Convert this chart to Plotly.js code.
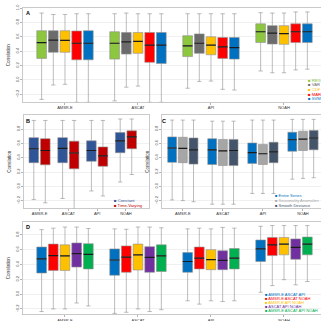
<!DOCTYPE html>
<html><head><meta charset="utf-8">
<script src="https://cdn.plot.ly/plotly-3.0.1.min.js"></script>
<style>html,body{margin:0;padding:0;background:#fff}#chart{width:321px;height:321px}</style>
</head><body><div id="chart"></div>
<script>
const CATS = ['AMSR-E','ASCAT','API','NOAH'];

// Panel A (rows = series, cols = categories)
const A_NAMES = ['REG','VAR','CDF','MAR','SVM'];
const A_COLORS = ['#8DC63F','#6B6B6B','#FFC000','#FF0000','#0070C0'];
const A_LOW = [[-0.27,-0.29,-0.115,0.125],[-0.07,-0.10,-0.02,0.10],[-0.06,-0.085,-0.015,0.10],[-0.31,-0.31,-0.13,0.14],[-0.31,-0.31,-0.14,0.15]];
const A_Q1  = [[0.30,0.29,0.325,0.52],[0.385,0.36,0.37,0.50],[0.385,0.37,0.35,0.495],[0.28,0.245,0.30,0.52],[0.28,0.23,0.29,0.52]];
const A_MED = [[0.52,0.51,0.475,0.67],[0.555,0.53,0.51,0.65],[0.55,0.535,0.485,0.645],[0.51,0.485,0.46,0.67],[0.51,0.485,0.45,0.67]];
const A_Q3  = [[0.685,0.67,0.615,0.78],[0.685,0.66,0.64,0.755],[0.685,0.66,0.60,0.755],[0.68,0.66,0.59,0.78],[0.685,0.66,0.59,0.78]];
const A_HIGH= [[0.93,0.92,0.92,0.935],[0.91,0.93,0.92,0.93],[0.91,0.92,0.92,0.93],[0.92,0.92,0.92,0.945],[0.92,0.92,0.92,0.945]];

// Panel B
const B_NAMES = ['Constant','Time-Varying'];
const B_COLORS = ['#2F5597','#C00000'];
const B_LOW = [[-0.185,-0.17,-0.065,0.06],[-0.23,-0.31,-0.135,0.165]];
const B_Q1  = [[0.33,0.33,0.35,0.47],[0.30,0.245,0.28,0.525]];
const B_MED = [[0.525,0.53,0.50,0.635],[0.50,0.465,0.425,0.69]];
const B_Q3  = [[0.68,0.68,0.635,0.75],[0.665,0.63,0.55,0.775]];
const B_HIGH= [[0.92,0.92,0.92,0.94],[0.92,0.92,0.92,0.94]];

// Panel C
const C_NAMES = ['Entire Series','Seasonality Anomalies','Smooth Deviance'];
const C_COLORS = ['#0070C0','#A6A6A6','#44546A'];
const C_LOW = [[-0.19,-0.25,-0.10,0.10],[-0.20,-0.25,-0.10,0.11],[-0.215,-0.25,-0.10,0.12]];
const C_Q1  = [[0.335,0.305,0.32,0.49],[0.33,0.29,0.305,0.50],[0.31,0.29,0.33,0.51]];
const C_MED = [[0.535,0.51,0.47,0.65],[0.53,0.495,0.455,0.66],[0.51,0.50,0.48,0.675]];
const C_Q3  = [[0.69,0.665,0.605,0.755],[0.685,0.655,0.585,0.77],[0.675,0.655,0.615,0.78]];
const C_HIGH= [[0.925,0.91,0.925,0.935],[0.925,0.91,0.925,0.935],[0.925,0.91,0.925,0.935]];

// Panel D
const D_NAMES = ['AMSR-E ASCAT API','AMSR-E ASCAT NOAH','AMSR-E API NOAH','ASCAT API NOAH','AMSR-E ASCAT API NOAH'];
const D_COLORS = ['#0070C0','#FF0000','#FFC000','#7030A0','#00B050'];
const D_LOW = [[-0.235,-0.26,-0.09,0.025],[-0.20,-0.245,-0.135,0.115],[-0.20,-0.20,-0.09,0.195],[-0.12,-0.235,-0.10,0.125],[-0.16,-0.21,-0.09,0.17]];
const D_Q1  = [[0.285,0.255,0.295,0.44],[0.32,0.295,0.34,0.52],[0.32,0.325,0.33,0.53],[0.365,0.295,0.33,0.47],[0.34,0.305,0.34,0.53]];
const D_MED = [[0.475,0.46,0.44,0.61],[0.52,0.50,0.485,0.665],[0.515,0.53,0.465,0.675],[0.545,0.495,0.455,0.63],[0.535,0.515,0.485,0.675]];
const D_Q3  = [[0.635,0.61,0.56,0.73],[0.675,0.65,0.635,0.765],[0.665,0.675,0.60,0.765],[0.69,0.64,0.585,0.745],[0.68,0.665,0.615,0.77]];
const D_HIGH= [[0.87,0.88,0.88,0.915],[0.89,0.875,0.89,0.925],[0.905,0.905,0.88,0.925],[0.905,0.905,0.90,0.925],[0.885,0.895,0.89,0.925]];

const W = 321, H = 321;
const px = v => v / W;
const py = v => 1 - v / H;
const FONT = 'Liberation Sans, Arial, sans-serif';

const traces = [];
function addPanel(tag, xa, ya, colors, low, q1, med, q3, high) {
  for (let i = 0; i < colors.length; i++) {
    traces.push({
      type: 'box', x: CATS, q1: q1[i], median: med[i], q3: q3[i],
      lowerfence: low[i], upperfence: high[i],
      xaxis: xa, yaxis: ya, fillcolor: colors[i],
      line: {color: '#8f8f8f', width: 0.6}, whiskerwidth: 0.45,
      offsetgroup: tag + i, alignmentgroup: tag,
      boxpoints: false, showlegend: false, hoverinfo: 'skip'
    });
    traces.push({
      type: 'box', x: CATS, q1: med[i], median: med[i], q3: med[i],
      lowerfence: med[i], upperfence: med[i],
      xaxis: xa, yaxis: ya, fillcolor: 'rgba(0,0,0,0)',
      line: {color: '#1a1a1a', width: 1.2}, whiskerwidth: 0,
      offsetgroup: tag + i, alignmentgroup: tag,
      boxpoints: false, showlegend: false, hoverinfo: 'skip'
    });
  }
}
addPanel('A', 'x', 'y', A_COLORS, A_LOW, A_Q1, A_MED, A_Q3, A_HIGH);
addPanel('B', 'x2', 'y2', B_COLORS, B_LOW, B_Q1, B_MED, B_Q3, B_HIGH);
addPanel('C', 'x3', 'y3', C_COLORS, C_LOW, C_Q1, C_MED, C_Q3, C_HIGH);
addPanel('D', 'x4', 'y4', D_COLORS, D_LOW, D_Q1, D_MED, D_Q3, D_HIGH);

function xax(d0, d1, r, anchor) {
  return {domain: [px(d0), px(d1)], range: r, anchor: anchor, type: 'category',
    showline: true, mirror: true, linecolor: '#b3b3b3', linewidth: 0.7,
    showgrid: false, zeroline: false, ticks: 'outside', ticklen: 1.5, tickcolor: '#b3b3b3',
    tickfont: {size: 4, color: '#333', family: FONT}, fixedrange: true};
}
function yax(top, bot, r, anchor) {
  return {domain: [py(bot), py(top)], range: r, anchor: anchor,
    showline: true, mirror: true, linecolor: '#b3b3b3', linewidth: 0.7,
    showgrid: true, gridcolor: '#e6e6e6', gridwidth: 0.6, zeroline: false,
    dtick: 0.2, tick0: 0, tickformat: '.1f', tickangle: -90,
    ticks: 'outside', ticklen: 2, tickcolor: '#b3b3b3',
    tickfont: {size: 4, color: '#4d4d4d', family: FONT},
    title: {text: 'Correlation', font: {size: 4.5, color: '#333', family: FONT}, standoff: 3},
    fixedrange: true};
}

const annotations = [];
function label(t, x, y) {
  annotations.push({text: '<b>' + t + '</b>', x: px(x), y: py(y), xref: 'paper', yref: 'paper',
    xanchor: 'center', yanchor: 'middle', showarrow: false, font: {size: 5.5, color: '#000', family: FONT}});
}
function legend(names, colors, x, ys, size) {
  names.forEach((n, i) => {
    annotations.push({text: '■ ' + n, x: px(x), y: py(ys[i]), xref: 'paper', yref: 'paper',
      xanchor: 'left', yanchor: 'middle', showarrow: false,
      font: {size: size, color: colors[i], family: FONT}});
  });
}
label('A', 27.7, 12.7);
label('B', 27.7, 120.7);
label('C', 164, 120.7);
label('D', 28, 226.7);
legend(A_NAMES, A_COLORS, 305.5, [80, 84.7, 89.3, 94, 98.7], 4.2);
legend(B_NAMES, B_COLORS, 112.4, [200, 205], 4.2);
legend(C_NAMES, C_COLORS, 273, [195.7, 200.3, 205], 4.0);
legend(D_NAMES, D_COLORS, 263, [294, 298.2, 302.4, 306.6, 310.8], 4.0);

const layout = {
  width: W, height: H, margin: {l: 0, r: 0, t: 0, b: 0},
  paper_bgcolor: '#fff', plot_bgcolor: '#fff',
  boxmode: 'group', boxgap: 0.2, boxgroupgap: 0.17,
  showlegend: false, font: {family: FONT},
  xaxis: xax(23, 321, [-0.575, 3.507], 'y'),
  yaxis: yax(8, 102.3, [-0.31, 1.0], 'x'),
  xaxis2: xax(24, 149, [-0.54, 3.8], 'y2'),
  yaxis2: yax(115, 208.3, [-0.307, 0.996], 'x2'),
  xaxis3: xax(162, 321, [-0.52, 3.45], 'y3'),
  yaxis3: yax(115, 208.3, [-0.307, 0.996], 'x3'),
  xaxis4: xax(23, 321, [-0.575, 3.507], 'y4'),
  yaxis4: yax(222, 314.5, [-0.275, 0.973], 'x4'),
  annotations: annotations
};
Plotly.newPlot('chart', traces, layout, {staticPlot: true, displayModeBar: false});
</script></body></html>
